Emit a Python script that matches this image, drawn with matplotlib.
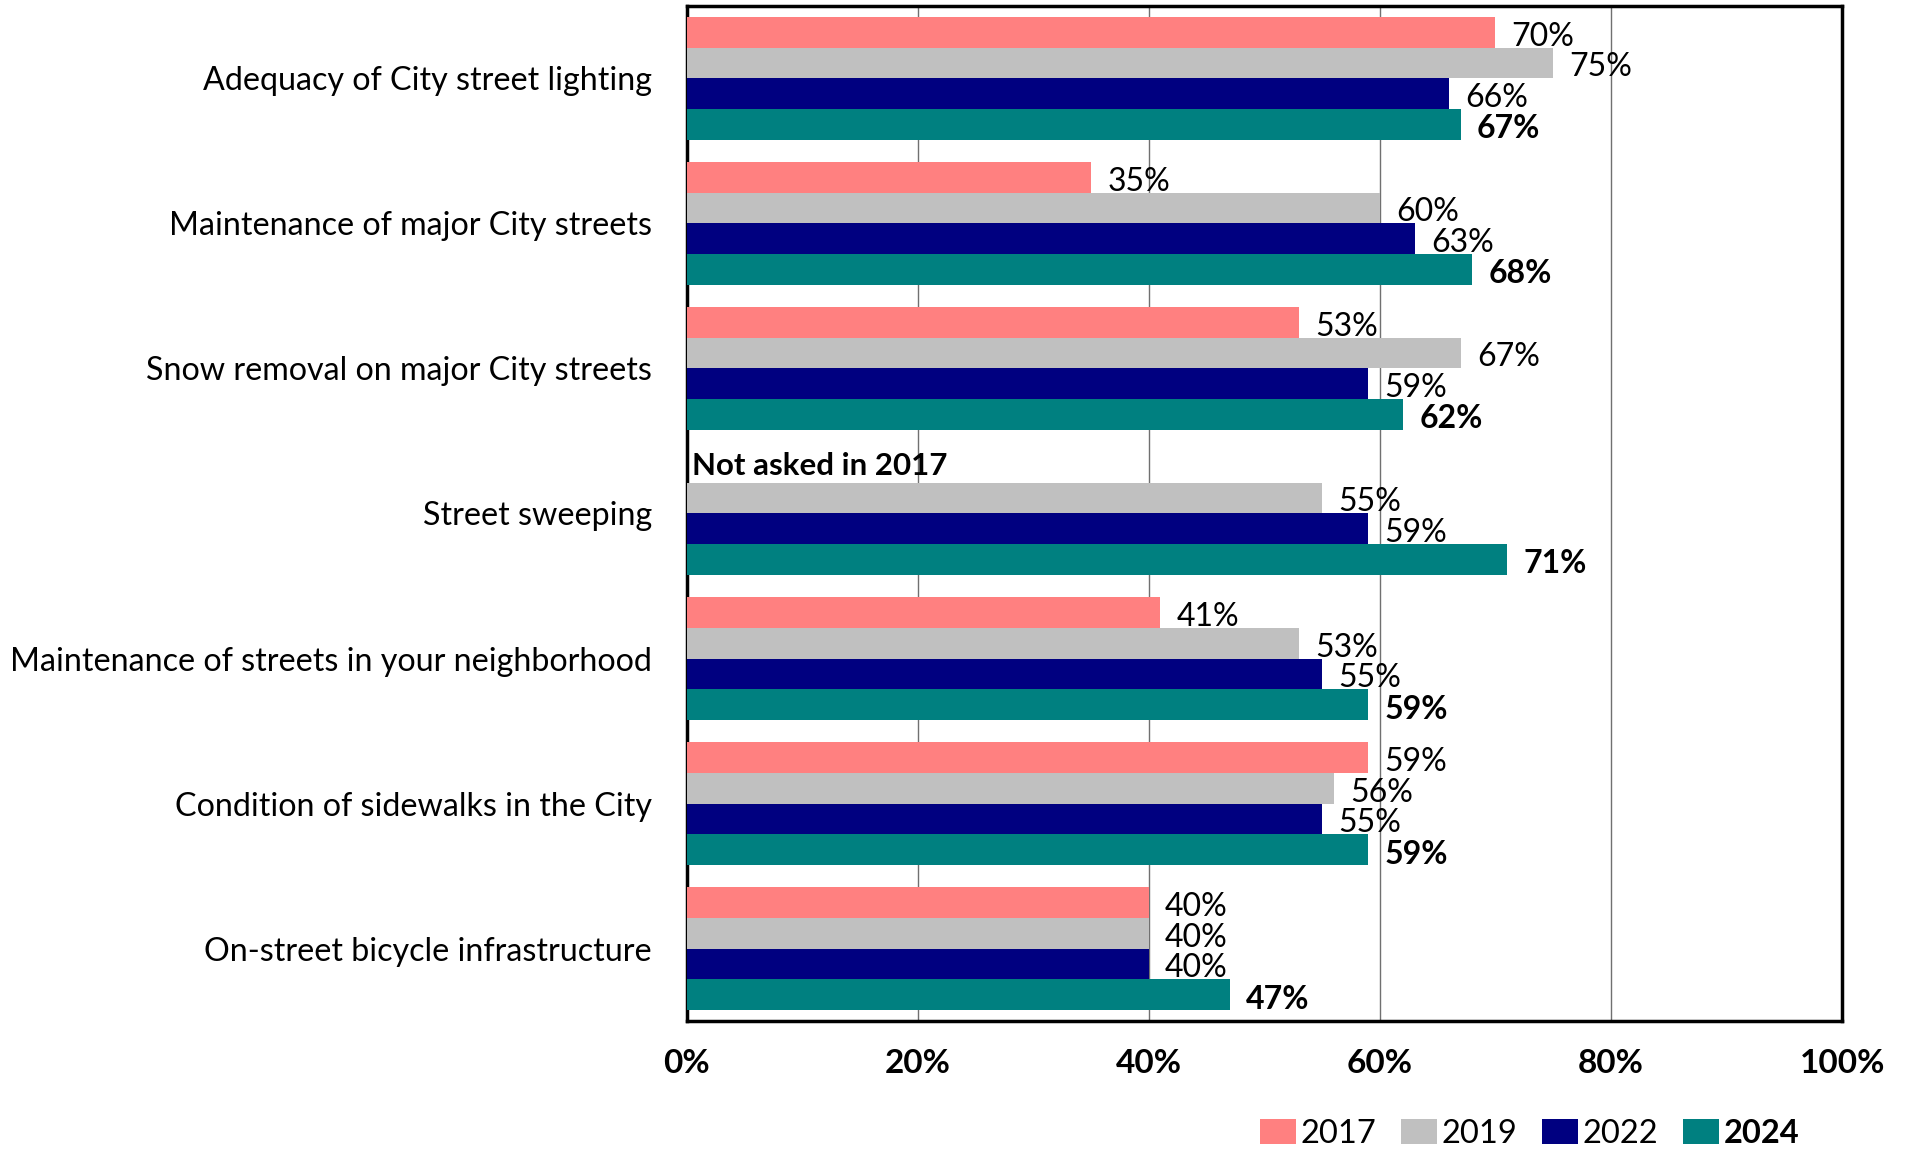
import numpy as np
import matplotlib
matplotlib.use("Agg")
import matplotlib.pyplot as plt
from matplotlib.patches import Patch

plt.rcParams['font.family'] = ['Lato', 'DejaVu Sans']

categories = [
    "Adequacy of City street lighting",
    "Maintenance of major City streets",
    "Snow removal on major City streets",
    "Street sweeping",
    "Maintenance of streets in your neighborhood",
    "Condition of sidewalks in the City",
    "On-street bicycle infrastructure",
]
years = ["2017", "2019", "2022", "2024"]
colors = ["#FF8080", "#C0C0C0", "#000080", "#008080"]

# None = question not asked that year
vals_2017 = [70, 35, 53, None, 41, 59, 40]
vals_2019 = [75, 60, 67, 55, 53, 56, 40]
vals_2022 = [66, 63, 59, 59, 55, 55, 40]
vals_2024 = [67, 68, 62, 71, 59, 59, 47]
series = [vals_2017, vals_2019, vals_2022, vals_2024]

fig = plt.figure(figsize=(19.07, 11.5), dpi=100)
ax = fig.add_axes([0.360, 0.112, 0.606, 0.883])

bar_h = 0.212
y = np.arange(len(categories))
for i, (vals, col) in enumerate(zip(series, colors)):
    offset = (i - 1.5) * bar_h
    bold = (i == 3)
    for j, v in enumerate(vals):
        if v is None:
            continue
        ax.barh(y[j] + offset, v, height=bar_h, color=col, zorder=3)
        ax.text(v + 1.4, y[j] + offset + 0.03, f"{v}%", va="center",
                ha="left", fontsize=23,
                fontweight="bold" if bold else "normal", zorder=4)

# 2017 slot for street sweeping is empty
ax.text(0.5, y[3] - 1.5 * bar_h - 0.01, "Not asked in 2017", va="center",
        ha="left", fontsize=22.5, fontweight="bold", zorder=4)

ax.set_xlim(0, 100)
ax.set_ylim(len(categories) - 0.5, -0.5)
ax.set_xticks(range(0, 101, 20))
ax.set_xticklabels([f"{t}%" for t in range(0, 101, 20)], fontsize=24,
                   fontweight="bold")
ax.set_yticks(y)
ax.set_yticklabels(categories, fontsize=23.2)
ax.tick_params(axis="both", length=0)
ax.tick_params(axis="x", pad=20)
ax.tick_params(axis="y", pad=25)

ax.grid(axis="x", color="#707070", linewidth=1.0, zorder=0)
for s in ax.spines.values():
    s.set_linewidth(2.5)
    s.set_color("black")

handles = [Patch(facecolor=c, label=yr) for c, yr in zip(colors, years)]
leg = fig.legend(handles=handles, loc="center", bbox_to_anchor=(0.802, 0.014),
                 ncol=4, frameon=False, fontsize=23.5, handlelength=1.1,
                 handleheight=0.8, handletextpad=0.15, columnspacing=0.75)
leg.get_texts()[3].set_fontweight("bold")

fig.savefig("out.png", dpi=100)
